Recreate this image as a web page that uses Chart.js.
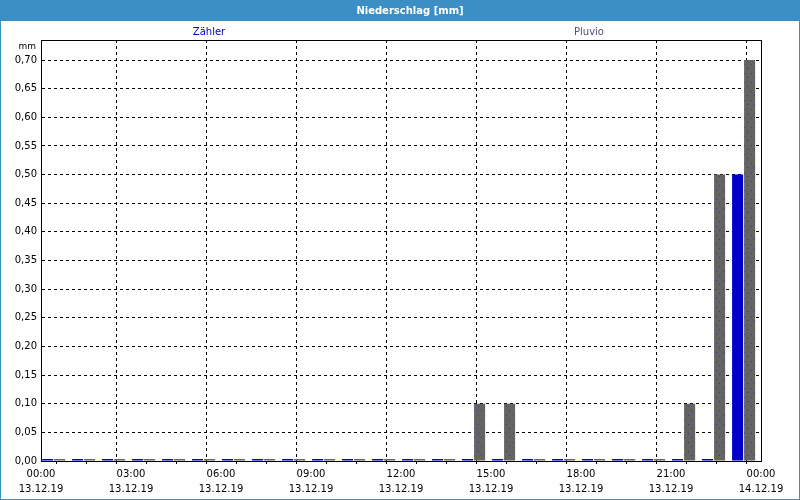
<!DOCTYPE html>
<html>
<head>
<meta charset="utf-8">
<script src="https://cdn.jsdelivr.net/npm/chart.js@4"></script>
<style>
html,body{margin:0;padding:0;background:#fff;}
#wrap{width:800px;height:500px;position:relative;}
</style>
</head>
<body>
<div id="wrap"><canvas id="c" width="800" height="500"></canvas></div>
<script>
// ---- data ----
const hours = [0,1,2,3,4,5,6,7,8,9,10,11,12,13,14,15,16,17,18,19,20,21,22,23];
const zaehler = [0,0,0,0,0,0,0,0,0,0,0,0,0,0,0,0,0,0,0,0,0,0,0,0.50];
const pluvio  = [0,0,0,0,0,0,0,0,0,0,0,0,0,0,0.10,0.10,0,0,0,0,0,0.10,0.50,0.70];
const xTickLabels = {0:['00:00','13.12.19'],3:['03:00','13.12.19'],6:['06:00','13.12.19'],9:['09:00','13.12.19'],12:['12:00','13.12.19'],15:['15:00','13.12.19'],18:['18:00','13.12.19'],21:['21:00','13.12.19'],24:['00:00','14.12.19']};
const seriesNames = ['Zähler','Pluvio'];
const titleText = 'Niederschlag [mm]';
const unitText = 'mm';

const FONT = '"DejaVu Sans", Verdana, sans-serif';
const BLUE = '#3b8fc4';

// pattern for grey bars
function makePattern(){
  const p = document.createElement('canvas');
  p.width = 7; p.height = 9;
  const g = p.getContext('2d');
  g.fillStyle = '#646464'; g.fillRect(0,0,7,9);
  g.fillStyle = '#3c3c90';
  g.fillRect(2,1,1,1); g.fillRect(5,5,1,1);
  return g.createPattern(p,'repeat');
}
const ctx = document.getElementById('c').getContext('2d');
const pat = makePattern();

const toPts = arr => arr.map((v,i)=>({x: hours[i] + 0.42, y: v}));

const framePlugin = {
  id:'frame',
  beforeDraw(chart){
    const c = chart.ctx;
    c.save();
    c.fillStyle = '#fdfefd';
    c.fillRect(0,0,800,500);
    c.fillStyle = BLUE;
    c.fillRect(0,0,800,21);
    c.fillRect(0,0,1,500);
    c.fillRect(799,0,1,500);
    c.fillRect(0,499,800,1);
    c.fillStyle = '#ffffff';
    c.font = 'bold 10px ' + FONT;
    c.textAlign = 'center'; c.textBaseline = 'middle';
    c.fillText(titleText, 410, 11);
    c.font = '10px ' + FONT;
    c.fillStyle = '#0000c0';
    c.fillText(seriesNames[0], 209, 32);
    c.fillStyle = '#505078';
    c.fillText(seriesNames[1], 589, 32);
    c.fillStyle = '#000';
    c.font = '9px ' + FONT;
    c.textAlign = 'right';
    c.fillText(unitText, 36, 47);
    c.restore();
  },
  afterDraw(chart){
    const a = chart.chartArea, c = chart.ctx;
    c.save();
    c.strokeStyle = '#000'; c.lineWidth = 1;
    c.strokeRect(Math.round(a.left)+0.5, Math.round(a.top)+0.5, Math.round(a.right-a.left)-0, Math.round(a.bottom-a.top));
    c.restore();
  }
};

new Chart(ctx, {
  type:'bar',
  data:{
    datasets:[
      {label:seriesNames[0], data:toPts(zaehler), backgroundColor:'#0000c8', borderWidth:0, minBarLength:2},
      {label:seriesNames[1], data:toPts(pluvio), backgroundColor:pat, borderWidth:0, minBarLength:2}
    ]
  },
  options:{
    responsive:false,
    animation:false,
    devicePixelRatio:1,
    layout:{padding:{left:0,right:39,top:40,bottom:0}},
    categoryPercentage:0.8,
    barPercentage:0.92,
    plugins:{legend:{display:false},title:{display:false},tooltip:{enabled:false}},
    scales:{
      x:{
        type:'linear', min:0, max:24, offset:false,
        afterFit(s){ s.height = 39; },
        afterBuildTicks(s){ s.ticks = []; for(let h=0;h<=24;h++) s.ticks.push({value:h}); },
        ticks:{
          autoSkip:false, maxRotation:0, padding:3,
          color:'#000', font:{family:FONT,size:10, lineHeight:1.5},
          callback:(v)=> xTickLabels[v] || ''
        },
        grid:{
          color:(c)=> (c.tick && c.tick.value%3===0) ? '#000' : 'rgba(0,0,0,0)',
          tickColor:'#000', tickLength:3, drawTicks:true, lineWidth:1
        },
        border:{display:true,color:'#000',dash:[3,3]}
      },
      y:{
        min:0, max:0.735,
        afterFit(s){ s.width = 41; },
        afterBuildTicks(s){ const t=[]; for(let i=0;i<=14;i++) t.push({value:Math.round(i*5)/100}); s.ticks=t; },
        ticks:{
          padding:4, color:'#000', font:{family:FONT,size:10},
          callback:(v)=> v.toFixed(2).replace('.',',')
        },
        grid:{color:'#000', drawTicks:false, lineWidth:1},
        border:{display:true,color:'#000',dash:[3,3]}
      }
    }
  },
  plugins:[framePlugin]
});
</script>
</body>
</html>
